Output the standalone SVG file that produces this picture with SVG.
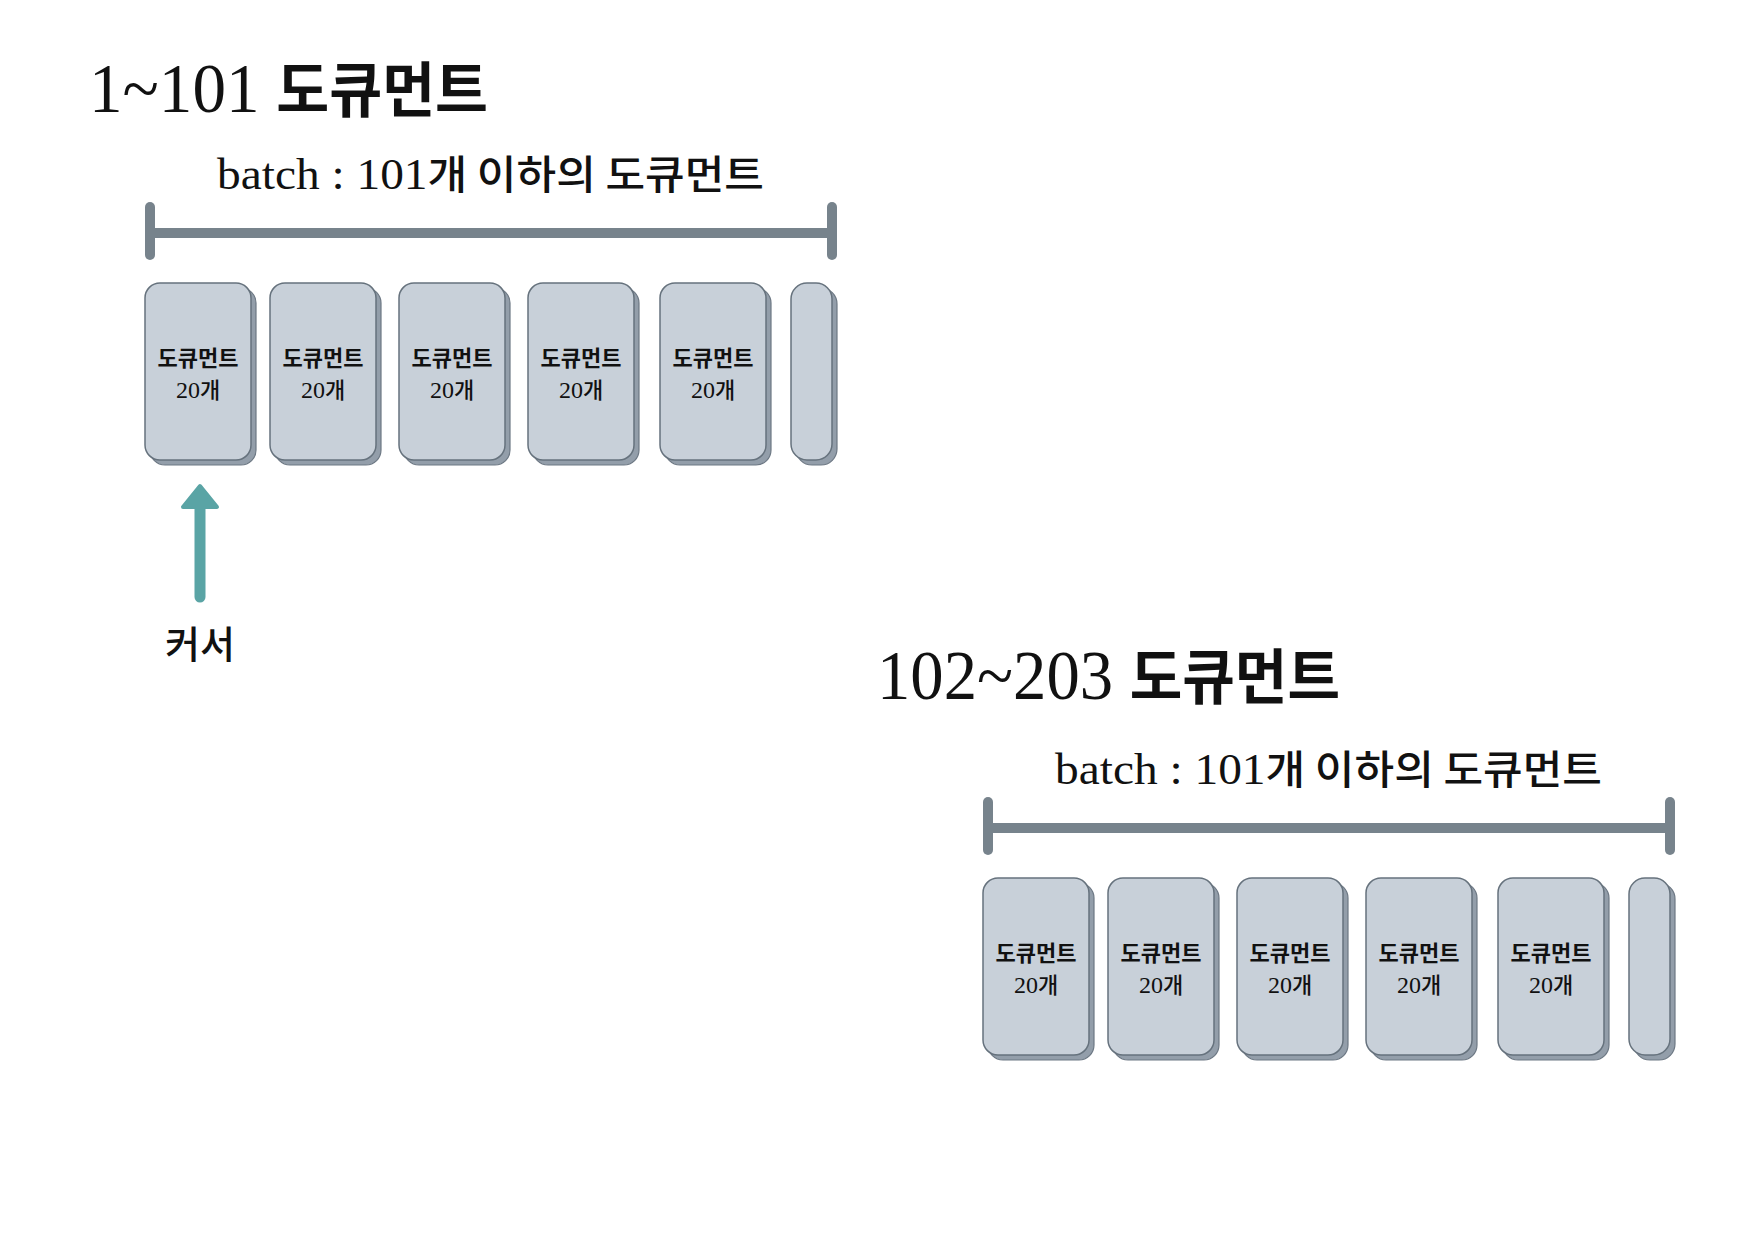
<svg xmlns="http://www.w3.org/2000/svg" width="1747" height="1240" viewBox="0 0 1747 1240">
<style>
  text { font-family: 'Liberation Serif', 'Noto Sans CJK KR', serif; fill: #111; }
  .ko { font-family: 'Noto Sans CJK KR', sans-serif; font-weight: 500; }
  .kob { font-family: 'Noto Sans CJK KR', sans-serif; font-weight: 700; }
  .card { fill: #c8d0d9; stroke: #66727d; stroke-width: 1.5; }
  .shadow { fill: #939eaa; stroke: #6d7884; stroke-width: 1.2; }
  .ctext { font-size: 22px; text-anchor: middle; }
  .num { font-size: 24px; }
  .bar { stroke: #77838c; stroke-width: 10; stroke-linecap: round; fill: none; }
</style>
<rect width="1747" height="1240" fill="#ffffff"/>

<!-- ===== Section 1 ===== -->
<g id="title1">
  <text x="89" y="112" font-size="70" textLength="399" lengthAdjust="spacingAndGlyphs">1~101 <tspan class="kob" font-size="60">도큐먼트</tspan></text>
</g>
<g id="batch1">
  <text x="217" y="189" font-size="44" textLength="547" lengthAdjust="spacingAndGlyphs">batch : 101<tspan class="ko" font-size="40">개 이하의 도큐먼트</tspan></text>
  <line class="bar" x1="150" y1="233" x2="832" y2="233" stroke-linecap="butt"/>
  <line class="bar" x1="150" y1="207" x2="150" y2="255"/>
  <line class="bar" x1="832" y1="207" x2="832" y2="255"/>
</g>

<g id="s1-card1">
  <rect class="shadow" x="150" y="288" width="106" height="177" rx="15"/>
  <rect class="card" x="145" y="283" width="106" height="177" rx="15"/>
  <text class="ctext" x="198" y="366"><tspan class="kob">도큐먼트</tspan><tspan x="198" dy="32" class="num">20</tspan><tspan class="ko">개</tspan></text>
</g>
<g id="s1-card2">
  <rect class="shadow" x="275" y="288" width="106" height="177" rx="15"/>
  <rect class="card" x="270" y="283" width="106" height="177" rx="15"/>
  <text class="ctext" x="323" y="366"><tspan class="kob">도큐먼트</tspan><tspan x="323" dy="32" class="num">20</tspan><tspan class="ko">개</tspan></text>
</g>
<g id="s1-card3">
  <rect class="shadow" x="404" y="288" width="106" height="177" rx="15"/>
  <rect class="card" x="399" y="283" width="106" height="177" rx="15"/>
  <text class="ctext" x="452" y="366"><tspan class="kob">도큐먼트</tspan><tspan x="452" dy="32" class="num">20</tspan><tspan class="ko">개</tspan></text>
</g>
<g id="s1-card4">
  <rect class="shadow" x="533" y="288" width="106" height="177" rx="15"/>
  <rect class="card" x="528" y="283" width="106" height="177" rx="15"/>
  <text class="ctext" x="581" y="366"><tspan class="kob">도큐먼트</tspan><tspan x="581" dy="32" class="num">20</tspan><tspan class="ko">개</tspan></text>
</g>
<g id="s1-card5">
  <rect class="shadow" x="665" y="288" width="106" height="177" rx="15"/>
  <rect class="card" x="660" y="283" width="106" height="177" rx="15"/>
  <text class="ctext" x="713" y="366"><tspan class="kob">도큐먼트</tspan><tspan x="713" dy="32" class="num">20</tspan><tspan class="ko">개</tspan></text>
</g>
<g id="s1-card6">
  <rect class="shadow" x="796" y="288" width="41" height="177" rx="16"/>
  <rect class="card" x="791" y="283" width="41" height="177" rx="16"/>
</g>

<g id="cursor">
  <text x="200" y="658" font-size="38" text-anchor="middle"><tspan class="ko">커서</tspan></text>
</g>

<g id="connectors">
  <line x1="200" y1="597" x2="200" y2="505" stroke="#5aa4a5" stroke-width="11" stroke-linecap="round"/>
  <polygon points="200,486 217,507 183,507" fill="#5aa4a5" stroke="#5aa4a5" stroke-width="4" stroke-linejoin="round"/>
</g>

<!-- ===== Section 2 ===== -->
<g id="title2">
  <text x="877" y="699" font-size="70" textLength="463" lengthAdjust="spacingAndGlyphs">102~203 <tspan class="kob" font-size="60">도큐먼트</tspan></text>
</g>
<g id="batch2">
  <text x="1055" y="784" font-size="44" textLength="547" lengthAdjust="spacingAndGlyphs">batch : 101<tspan class="ko" font-size="40">개 이하의 도큐먼트</tspan></text>
  <line class="bar" x1="988" y1="828" x2="1670" y2="828" stroke-linecap="butt"/>
  <line class="bar" x1="988" y1="802" x2="988" y2="850"/>
  <line class="bar" x1="1670" y1="802" x2="1670" y2="850"/>
</g>

<g id="s2-card1">
  <rect class="shadow" x="988" y="883" width="106" height="177" rx="15"/>
  <rect class="card" x="983" y="878" width="106" height="177" rx="15"/>
  <text class="ctext" x="1036" y="961"><tspan class="kob">도큐먼트</tspan><tspan x="1036" dy="32" class="num">20</tspan><tspan class="ko">개</tspan></text>
</g>
<g id="s2-card2">
  <rect class="shadow" x="1113" y="883" width="106" height="177" rx="15"/>
  <rect class="card" x="1108" y="878" width="106" height="177" rx="15"/>
  <text class="ctext" x="1161" y="961"><tspan class="kob">도큐먼트</tspan><tspan x="1161" dy="32" class="num">20</tspan><tspan class="ko">개</tspan></text>
</g>
<g id="s2-card3">
  <rect class="shadow" x="1242" y="883" width="106" height="177" rx="15"/>
  <rect class="card" x="1237" y="878" width="106" height="177" rx="15"/>
  <text class="ctext" x="1290" y="961"><tspan class="kob">도큐먼트</tspan><tspan x="1290" dy="32" class="num">20</tspan><tspan class="ko">개</tspan></text>
</g>
<g id="s2-card4">
  <rect class="shadow" x="1371" y="883" width="106" height="177" rx="15"/>
  <rect class="card" x="1366" y="878" width="106" height="177" rx="15"/>
  <text class="ctext" x="1419" y="961"><tspan class="kob">도큐먼트</tspan><tspan x="1419" dy="32" class="num">20</tspan><tspan class="ko">개</tspan></text>
</g>
<g id="s2-card5">
  <rect class="shadow" x="1503" y="883" width="106" height="177" rx="15"/>
  <rect class="card" x="1498" y="878" width="106" height="177" rx="15"/>
  <text class="ctext" x="1551" y="961"><tspan class="kob">도큐먼트</tspan><tspan x="1551" dy="32" class="num">20</tspan><tspan class="ko">개</tspan></text>
</g>
<g id="s2-card6">
  <rect class="shadow" x="1634" y="883" width="41" height="177" rx="16"/>
  <rect class="card" x="1629" y="878" width="41" height="177" rx="16"/>
</g>
</svg>
